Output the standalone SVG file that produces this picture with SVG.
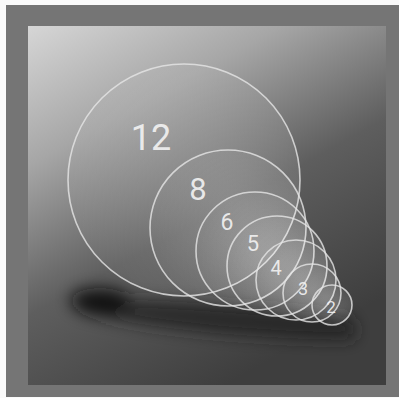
<svg xmlns="http://www.w3.org/2000/svg" width="399" height="398" viewBox="0 0 399 398">
<defs>
<linearGradient id="bg" x1="0" y1="0" x2="0.55" y2="1">
<stop offset="0" stop-color="#d6d6d6"/>
<stop offset="0.3" stop-color="#a6a6a6"/>
<stop offset="0.62" stop-color="#5e5e5e"/>
<stop offset="1" stop-color="#3e3e3e"/>
</linearGradient>
<radialGradient id="disc" cx="0.7" cy="0.6" r="0.7">
<stop offset="0" stop-color="#ffffff" stop-opacity="0.18"/>
<stop offset="1" stop-color="#ffffff" stop-opacity="0.03"/>
</radialGradient>
<filter id="blur" x="-30%" y="-100%" width="160%" height="300%">
<feGaussianBlur stdDeviation="8"/>
</filter>
<style>
.ring{fill:url(#disc);stroke:#e6e6e6;stroke-opacity:0.8;stroke-width:1.6}
.lbl{font-family:Roboto,"Liberation Sans",Arial,sans-serif;fill:#f2f2f2;fill-opacity:0.92;text-anchor:middle}
</style>
</defs>
<rect x="0" y="0" width="399" height="398" fill="#fafafa"/>
<rect x="6" y="5" width="393" height="392" fill="#757575"/>
<rect x="28" y="26" width="358" height="359" fill="url(#bg)"/>
<g id="shadow" filter="url(#blur)">
<path d="M75 298 Q200 300 345 316 Q362 325 352 340 Q200 338 85 314 Z" fill="#1e1e1e" opacity="0.8"/>
<ellipse cx="100" cy="301" rx="30" ry="13" fill="#0c0c0c" opacity="0.9"/>
</g>
<g id="c12"><circle class="ring" cx="184" cy="180" r="116"/><text class="lbl" x="151" y="150" font-size="36">12</text></g>
<g id="c8"><circle class="ring" cx="228" cy="228" r="78"/><text class="lbl" x="198" y="200" font-size="31">8</text></g>
<g id="c6"><circle class="ring" cx="255" cy="251" r="59"/><text class="lbl" x="227" y="230" font-size="23">6</text></g>
<g id="c5"><circle class="ring" cx="277" cy="266" r="50"/><text class="lbl" x="253" y="251" font-size="22">5</text></g>
<g id="c4"><circle class="ring" cx="296" cy="280" r="40"/><text class="lbl" x="276" y="275" font-size="20">4</text></g>
<g id="c3"><circle class="ring" cx="312" cy="293" r="29"/><text class="lbl" x="303" y="295" font-size="18">3</text></g>
<g id="c2"><circle class="ring" cx="332" cy="305" r="20"/><text class="lbl" x="331" y="313" font-size="17">2</text></g>
</svg>
